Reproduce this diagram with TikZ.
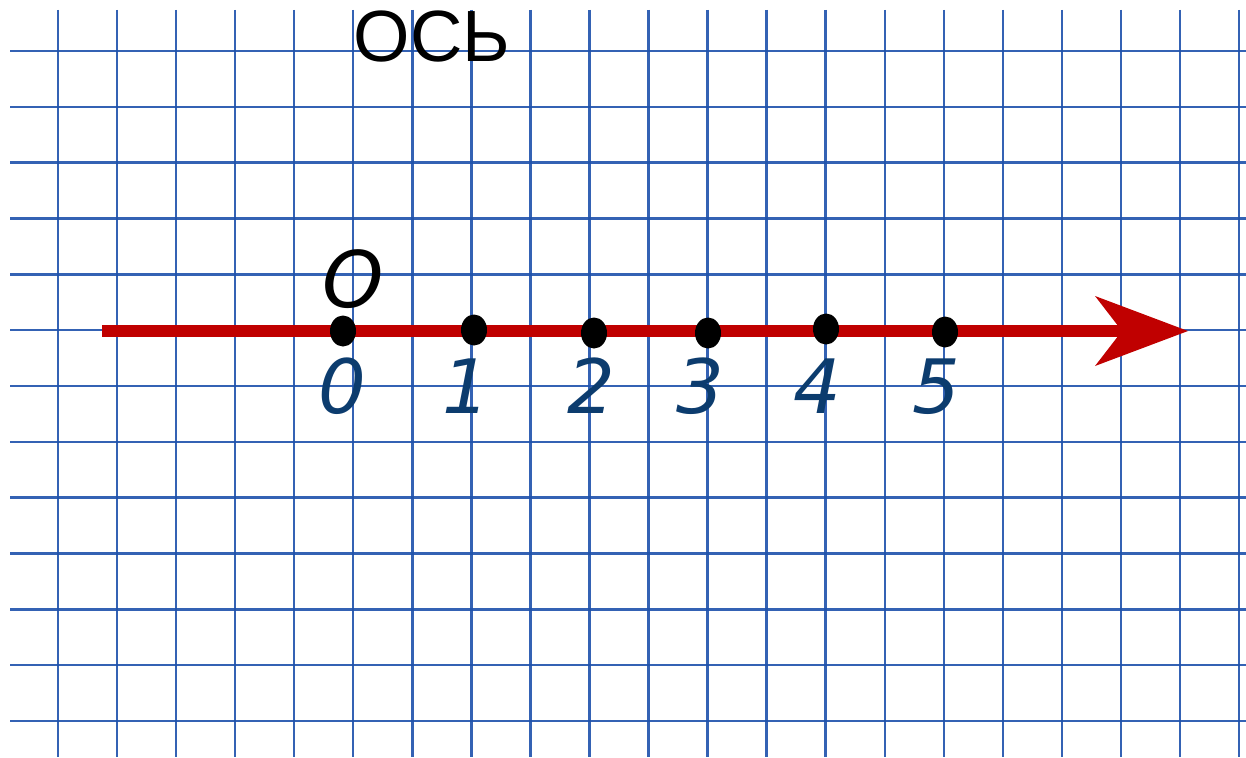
\documentclass[tikz,border=0pt]{standalone}
\usepackage{fontspec}
\setmainfont{Liberation Sans}
\newfontfamily\djs{DejaVu Sans}
\usetikzlibrary{shapes.geometric}
\definecolor{gridblue}{RGB}{30,82,172}
\definecolor{axisred}{RGB}{192,0,0}
\definecolor{labelblue}{RGB}{12,60,110}
\tikzset{
  gridline/.style={draw=gridblue,line width=2.4pt,opacity=0.9},
  axisline/.style={draw=axisred,line width=12pt},
  dotmark/.style={ellipse,fill=black,minimum width=26pt,minimum height=31pt,inner sep=0pt},
  numlabel/.style={text=labelblue,font=\djs\itshape\fontsize{75}{80}\selectfont,anchor=base,inner sep=0pt},
  olabel/.style={text=black,font=\djs\itshape\fontsize{78}{80}\selectfont,anchor=base,inner sep=0pt},
  titlelabel/.style={text=black,font=\fontsize{72.6}{76}\selectfont,anchor=base,inner sep=0pt}
}
\begin{document}
\begin{tikzpicture}[x=1pt,y=-1pt]
\useasboundingbox[fill=white] (0,0) rectangle (1246,757);
% grid
\foreach \i in {0,...,20} \draw[gridline] ({58+59.05*\i},10) -- ({58+59.05*\i},757);
\foreach \j in {0,...,12} \draw[gridline] (10,{51+55.83*\j}) -- (1246,{51+55.83*\j});
% axis
\coordinate (start) at (102,331);
\coordinate (notch) at (1122,331);
\coordinate (tip) at (1188,331);
\draw[axisline] (start) -- ([xshift=4pt]notch);
\fill[axisred] (tip) -- ++(-93,-35) -- (notch) -- ++(-27,35) -- cycle;
% points
\node[dotmark] (p0) at (343,331) {};
\node[dotmark] (p1) at (474,330) {};
\node[dotmark] (p2) at (594,333) {};
\node[dotmark] (p3) at (708,333) {};
\node[dotmark] (p4) at (826,329) {};
\node[dotmark] (p5) at (945,332) {};
% labels
\node[numlabel] (l0) at (342,413) {0};
\node[numlabel] (l1) at (466,413) {1};
\node[numlabel] (l2) at (591,413) {2};
\node[numlabel] (l3) at (700,413) {3};
\node[numlabel] (l4) at (817,413) {4};
\node[numlabel] (l5) at (936,413) {5};
\node[olabel] (o) at (353,307) {O};
\node[titlelabel] (title) at (432,62) {ОСЬ};
\end{tikzpicture}
\end{document}
